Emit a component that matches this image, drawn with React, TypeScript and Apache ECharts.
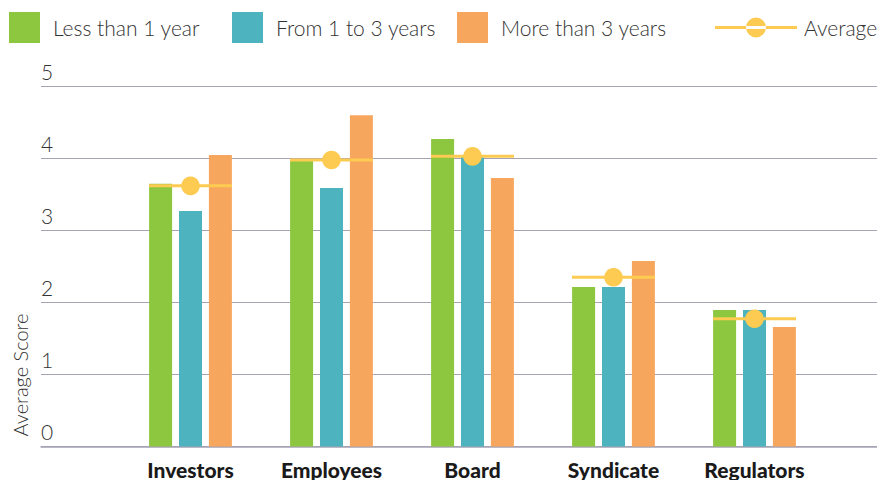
import React, { useEffect, useRef } from "react";
import * as echarts from "echarts";

const categories = ["Investors", "Employees", "Board", "Syndicate", "Regulators"];
const lessThan1 = [3.65, 3.98, 4.27, 2.215, 1.895];
const from1to3 = [3.27, 3.59, 4.03, 2.215, 1.895];
const moreThan3 = [4.05, 4.6, 3.73, 2.575, 1.66];
const average = [3.62, 3.98, 4.03, 2.35, 1.775];
const yTicks = [0, 1, 2, 3, 4, 5];
const seriesNames = ["Less than 1 year", "From 1 to 3 years", "More than 3 years"];

const GREEN = "#8DC63F";
const TEAL = "#4DB3BE";
const ORANGE = "#F7A75D";
const YELLOW = "#FDCB52";
const GRID = "#A6A3B5";
const FONT = "Lato";

export default function App() {
  const ref = useRef<HTMLDivElement>(null);
  useEffect(() => {
    if (!ref.current) return;
    const chart = echarts.init(ref.current, undefined, { renderer: "svg" });
    const top = 86.5;
    const bottom = 33.5;
    const legendText = { fontFamily: FONT, fontSize: 21, fontWeight: 300, color: "#333", padding: [0, 0, 0, 8] };
    const legendLefts = [9, 232, 457];
    chart.setOption({
      animation: false,
      backgroundColor: "#ffffff",
      textStyle: { fontFamily: FONT },
      legend: [
        ...seriesNames.map((n, i) => ({
          data: [n],
          left: legendLefts[i],
          top: 12,
          padding: 0,
          itemWidth: 31,
          itemHeight: 31,
          icon: "rect",
          textStyle: legendText,
        })),
        {
          data: [
            {
              name: "Average",
              icon: "path://M0,8.5h82v3H0z M31,10a10,10 0 1,0 20,0a10,10 0 1,0 -20,0z",
            },
          ],
          left: 715,
          top: 17,
          padding: 0,
          itemWidth: 82,
          itemHeight: 20,
          textStyle: { ...legendText, padding: [0, 0, 0, 2] },
        },
      ],
      grid: [
        { left: 41, right: 0, top, bottom },
        { left: 120, right: 52, top, bottom },
      ],
      xAxis: [
        {
          gridIndex: 0,
          type: "category",
          data: [""],
          axisLine: { show: true, lineStyle: { color: GRID, width: 1.5 } },
          axisTick: { show: false },
          axisLabel: { show: false },
        },
        {
          gridIndex: 1,
          type: "category",
          data: categories,
          axisLine: { show: false },
          axisTick: { show: false },
          axisLabel: {
            margin: 12,
            fontFamily: FONT,
            fontSize: 21,
            fontWeight: 900,
            color: "#1a1a1a",
          },
        },
      ],
      yAxis: [
        {
          gridIndex: 0,
          type: "value",
          min: yTicks[0],
          max: yTicks[yTicks.length - 1],
          interval: 1,
          axisLine: { show: false },
          axisTick: { show: false },
          splitLine: { show: true, lineStyle: { color: GRID, width: 1.2 } },
          axisLabel: {
            inside: true,
            margin: 0,
            verticalAlign: "bottom",
            lineHeight: 20,
            padding: [0, 0, 5, 0],
            fontFamily: FONT,
            fontSize: 21,
            fontWeight: 300,
            color: "#333",
          },
        },
        {
          gridIndex: 1,
          type: "value",
          min: yTicks[0],
          max: yTicks[yTicks.length - 1],
          interval: 1,
          show: false,
          splitLine: { show: false },
        },
      ],
      graphic: [
        {
          type: "text",
          x: 20,
          y: 375,
          rotation: Math.PI / 2,
          style: {
            text: "Average Score",
            align: "center",
            verticalAlign: "middle",
            fontFamily: FONT,
            fontSize: 20,
            fontWeight: 300,
            fill: "#333",
          },
        },
      ],
      series: [
        {
          name: seriesNames[0],
          type: "bar",
          xAxisIndex: 1,
          yAxisIndex: 1,
          data: lessThan1,
          barWidth: 23,
          barGap: "30%",
          itemStyle: { color: GREEN },
        },
        {
          name: seriesNames[1],
          type: "bar",
          xAxisIndex: 1,
          yAxisIndex: 1,
          data: from1to3,
          barWidth: 23,
          barGap: "30%",
          itemStyle: { color: TEAL },
        },
        {
          name: seriesNames[2],
          type: "bar",
          xAxisIndex: 1,
          yAxisIndex: 1,
          data: moreThan3,
          barWidth: 23,
          barGap: "30%",
          itemStyle: { color: ORANGE },
        },
        {
          name: "Average",
          type: "custom",
          xAxisIndex: 1,
          yAxisIndex: 1,
          z: 5,
          itemStyle: { color: YELLOW },
          encode: { x: 0, y: 1 },
          data: average.map((v, i) => [i, v]),
          renderItem: (params: any, api: any) => {
            const pt = api.coord([api.value(0), api.value(1)]);
            const half = 41.5;
            return {
              type: "group",
              children: [
                {
                  type: "line",
                  shape: { x1: pt[0] - half, y1: pt[1], x2: pt[0] + half, y2: pt[1] },
                  style: { stroke: YELLOW, lineWidth: 3 },
                },
                {
                  type: "circle",
                  shape: { cx: pt[0], cy: pt[1], r: 9.3 },
                  style: { fill: YELLOW },
                },
              ],
            };
          },
        },
      ],
    });
    return () => chart.dispose();
  }, []);
  return (
    <div
      ref={ref}
      style={{ position: "fixed", left: 0, top: 0, width: 877, height: 480 }}
    />
  );
}
